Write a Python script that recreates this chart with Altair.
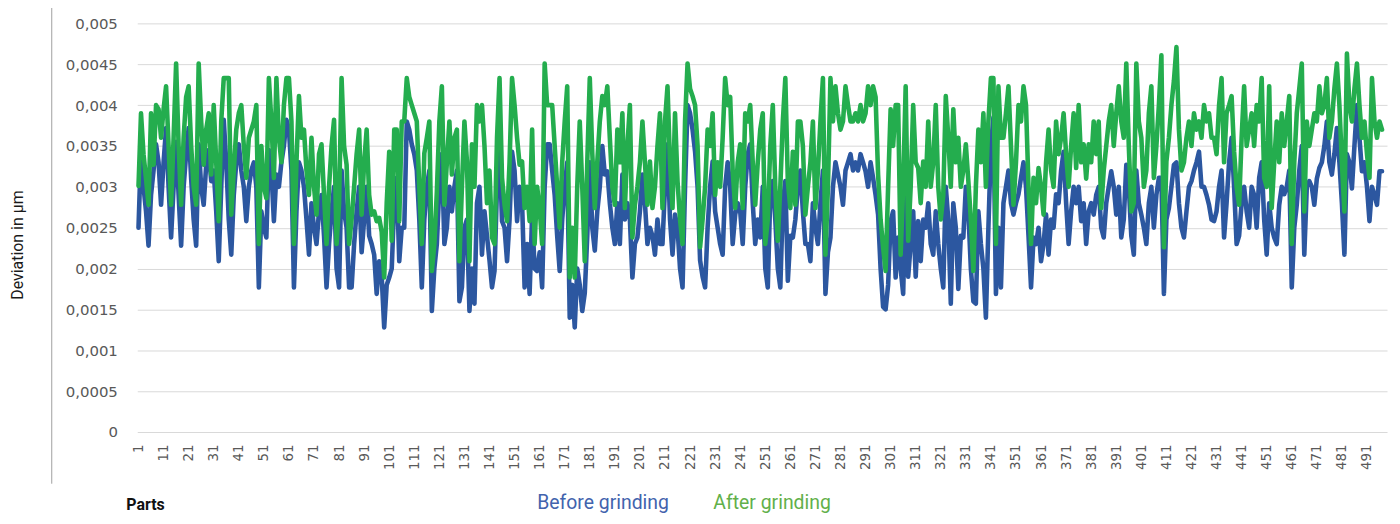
import altair as alt
import pandas as pd

# Deviation values, in units of 1e-5 (e.g. 390 -> 0,0039)
before_e5 = [
    250, 345, 300, 270, 228, 290, 320, 352, 330, 278,
    330, 372, 300, 238, 300, 355, 290, 228, 300, 340,
    372, 310, 260, 228, 352, 300, 278, 327, 345, 307,
    320, 270, 209, 300, 382, 330, 260, 217, 290, 330,
    352, 320, 300, 258, 300, 320, 330, 300, 177, 270,
    250, 238, 345, 320, 258, 315, 300, 330, 350, 382,
    370, 320, 177, 270, 330, 320, 300, 260, 217, 280,
    250, 230, 270, 290, 240, 177, 230, 270, 300, 200,
    177, 320, 270, 250, 177, 177, 230, 270, 300, 220,
    260, 300, 240, 230, 217, 169, 209, 190, 128, 180,
    189, 200, 280, 311, 209, 250, 250, 380, 370, 352,
    340, 320, 260, 177, 260, 300, 320, 148, 200, 230,
    300, 340, 230, 250, 300, 270, 300, 320, 160, 177,
    250, 260, 148, 200, 157, 280, 300, 217, 270, 240,
    210, 177, 197, 300, 352, 258, 250, 209, 260, 343,
    320, 258, 300, 280, 177, 230, 169, 266, 200, 197,
    220, 177, 300, 352, 352, 320, 290, 240, 197, 260,
    300, 330, 140, 180, 128, 200, 180, 148, 170, 240,
    330, 250, 222, 270, 300, 350, 315, 319, 280, 250,
    230, 280, 230, 315, 260, 280, 260, 189, 230, 238,
    270, 315, 280, 230, 250, 240, 217, 260, 230, 230,
    300, 352, 260, 217, 266, 250, 200, 177, 300, 400,
    390, 370, 343, 300, 210, 190, 177, 250, 300, 331,
    270, 250, 230, 217, 300, 330, 300, 230, 266, 280,
    270, 230, 300, 340, 352, 280, 230, 260, 238, 300,
    200, 177, 290, 307, 260, 200, 177, 280, 307, 185,
    240, 238, 260, 300, 320, 270, 230, 230, 209, 280,
    250, 230, 280, 320, 169, 220, 238, 300, 330, 315,
    300, 278, 320, 330, 340, 320, 330, 320, 340, 330,
    319, 300, 330, 311, 290, 266, 200, 153, 150, 180,
    258, 270, 189, 238, 200, 169, 300, 190, 230, 270,
    190, 258, 209, 260, 250, 280, 230, 217, 270, 230,
    200, 177, 300, 260, 157, 280, 250, 175, 240, 238,
    300, 270, 200, 160, 157, 270, 230, 200, 140, 250,
    350, 385, 169, 250, 177, 280, 300, 320, 280, 266,
    280, 291, 311, 330, 300, 240, 177, 238, 230, 250,
    209, 230, 266, 217, 260, 250, 291, 280, 320, 343,
    280, 230, 270, 300, 280, 300, 258, 280, 230, 270,
    280, 266, 290, 300, 250, 238, 280, 300, 319, 300,
    266, 300, 238, 260, 327, 300, 240, 217, 320, 280,
    266, 250, 230, 280, 300, 250, 290, 311, 311, 169,
    260, 274, 300, 327, 330, 280, 250, 238, 270, 300,
    307, 320, 330, 343, 300, 300, 290, 278, 260, 258,
    270, 300, 320, 238, 280, 330, 360, 300, 230, 240,
    280, 300, 270, 250, 300, 290, 250, 311, 330, 260,
    217, 280, 250, 238, 230, 278, 300, 291, 300, 320,
    177, 250, 278, 320, 350, 217, 300, 307, 300, 278,
    310, 323, 330, 350, 380, 330, 315, 340, 372, 330,
    280, 217, 340, 330, 298, 350, 400, 360, 319, 330,
    300, 258, 300, 290, 278, 319, 319,
]

after_e5 = [
    301, 390, 340, 310, 278, 390, 327, 400, 395, 360,
    395, 423, 350, 278, 360, 451, 350, 278, 360, 410,
    423, 350, 300, 278, 451, 380, 327, 370, 390, 315,
    400, 330, 258, 380, 433, 433, 433, 266, 320, 370,
    390, 400, 350, 311, 360, 370, 380, 400, 230, 350,
    300, 286, 433, 380, 311, 433, 360, 330, 400, 433,
    433, 380, 230, 330, 411, 360, 370, 320, 290, 360,
    300, 266, 340, 352, 290, 230, 300, 350, 382, 230,
    280, 433, 350, 327, 230, 260, 300, 340, 370, 266,
    330, 370, 290, 266, 270, 258, 262, 245, 189, 280,
    343, 234, 370, 370, 258, 380, 380, 433, 410, 400,
    390, 380, 300, 230, 341, 360, 380, 197, 230, 294,
    380, 423, 278, 330, 380, 315, 360, 370, 209, 300,
    380, 331, 209, 352, 300, 400, 380, 400, 350, 280,
    320, 238, 230, 360, 433, 311, 278, 258, 330, 433,
    400, 360, 327, 331, 274, 300, 258, 370, 230, 300,
    274, 230, 451, 400, 400, 400, 350, 300, 250, 330,
    380, 423, 189, 250, 189, 300, 380, 300, 209, 330,
    433, 341, 274, 331, 380, 411, 400, 423, 360, 300,
    278, 370, 330, 390, 274, 350, 400, 238, 278, 300,
    330, 380, 330, 278, 331, 274, 300, 350, 390, 274,
    380, 423, 330, 274, 390, 307, 260, 230, 380, 451,
    420, 411, 400, 350, 226, 260, 300, 370, 350, 390,
    290, 330, 300, 360, 433, 400, 410, 320, 274, 330,
    352, 274, 390, 380, 400, 330, 278, 330, 370, 390,
    230, 260, 350, 400, 300, 234, 300, 380, 433, 307,
    274, 343, 278, 380, 380, 350, 266, 300, 330, 380,
    274, 320, 380, 433, 217, 300, 433, 380, 423, 390,
    370, 380, 423, 400, 380, 380, 390, 380, 400, 380,
    390, 423, 400, 423, 410, 315, 260, 226, 197, 300,
    395, 350, 400, 400, 217, 300, 423, 234, 300, 400,
    330, 323, 280, 331, 300, 380, 300, 330, 400, 300,
    260, 290, 411, 360, 300, 395, 330, 360, 300, 320,
    352, 307, 260, 197, 300, 370, 330, 390, 300, 380,
    433, 433, 230, 423, 360, 360, 390, 423, 350, 278,
    330, 400, 380, 423, 400, 300, 230, 311, 280, 323,
    300, 266, 330, 370, 320, 300, 380, 340, 360, 390,
    340, 300, 350, 390, 323, 400, 330, 352, 310, 352,
    330, 380, 340, 380, 274, 320, 350, 380, 400, 350,
    390, 423, 380, 360, 451, 350, 270, 280, 451, 380,
    360, 300, 320, 390, 423, 311, 350, 400, 461, 226,
    331, 360, 400, 430, 471, 370, 320, 330, 360, 380,
    350, 390, 370, 380, 360, 400, 380, 390, 360, 360,
    340, 400, 433, 330, 390, 400, 411, 343, 300, 278,
    360, 423, 350, 370, 390, 350, 400, 380, 433, 311,
    300, 423, 274, 330, 380, 330, 390, 350, 380, 411,
    230, 330, 390, 420, 451, 270, 380, 350, 370, 390,
    380, 423, 390, 400, 433, 360, 380, 420, 451, 400,
    330, 270, 463, 400, 380, 420, 451, 400, 360, 380,
    340, 311, 433, 380, 360, 380, 370,
]

series_names = ["Before grinding", "After grinding"]
y_title = "Deviation in µm"
x_title = "Parts"
y_ticks = [0, 0.0005, 0.001, 0.0015, 0.002, 0.0025, 0.003, 0.0035, 0.004, 0.0045, 0.005]
x_ticks = list(range(1, 492, 10))

n = len(before_e5)
df = pd.DataFrame({
    "part": list(range(1, n + 1)),
    "before": [v / 1e5 for v in before_e5],
    "after": [v / 1e5 for v in after_e5],
})

BLUE = "#2c57a0"
GREEN = "#24ad4e"
BLUE_TXT = "#4263ad"
GREEN_TXT = "#62b04a"
LABEL = "#595959"
LW = 4.6

x_enc = alt.X(
    "part:Q",
    scale=alt.Scale(domain=[0.5, 499], nice=False, zero=False),
    axis=alt.Axis(
        values=x_ticks, labelAngle=270, ticks=False, tickSize=0, domain=False,
        grid=False, labelPadding=12, labelFont="DejaVu Sans", labelFontSize=13.5,
        labelColor=LABEL, title=None, labelFlush=False, labelOverlap=False,
    ),
)
y_scale = alt.Scale(domain=[0, 0.005], nice=False, zero=True)
y_axis = alt.Axis(
    values=y_ticks, grid=True, gridColor="#d9d9d9", gridWidth=1, ticks=False,
    tickSize=0, domain=False, labelPadding=20, title=None,
    labelExpr="replace(format(datum.value, '~g'), '.', ',')",
    labelFont="DejaVu Sans", labelFontSize=15, labelColor=LABEL,
)

base = alt.Chart(df)
blue_line = base.mark_line(color=BLUE, strokeWidth=LW, strokeJoin="round", strokeCap="round").encode(
    x=x_enc, y=alt.Y("before:Q", scale=y_scale, axis=y_axis)
)
green_line = base.mark_line(color=GREEN, strokeWidth=LW, strokeJoin="round", strokeCap="round").encode(
    x=x_enc, y=alt.Y("after:Q", scale=y_scale, axis=y_axis)
)

one = pd.DataFrame({"k": [0]})
sep_rule = alt.Chart(one).mark_rule(color="#a0a0a0", strokeWidth=1).encode(
    x=alt.value(-86), y=alt.value(-17), y2=alt.value(463)
)

ytitle = alt.Chart(pd.DataFrame({"t": [y_title]})).mark_text(
    angle=270, font="Roboto", fontSize=16, color="#1a1a1a", align="center", baseline="middle"
).encode(text="t:N", x=alt.value(-120), y=alt.value(223))

xtitle = alt.Chart(pd.DataFrame({"t": [x_title]})).mark_text(
    font="Roboto", fontSize=16, fontWeight="bold", color="#111111", align="left", baseline="alphabetic"
).encode(text="t:N", x=alt.value(-11), y=alt.value(489))

leg_before = alt.Chart(pd.DataFrame({"t": [series_names[0]]})).mark_text(
    font="Roboto", fontSize=19.5, color=BLUE_TXT, align="center", baseline="alphabetic"
).encode(text="t:N", x=alt.value(468.5), y=alt.value(488))

leg_after = alt.Chart(pd.DataFrame({"t": [series_names[1]]})).mark_text(
    font="Roboto", fontSize=19.5, color=GREEN_TXT, align="center", baseline="alphabetic"
).encode(text="t:N", x=alt.value(638.5), y=alt.value(488))

chart = alt.layer(
    blue_line, green_line, sep_rule, ytitle, xtitle, leg_before, leg_after
).properties(
    width=1257, height=411,
    padding={"left": 130, "top": 14, "right": 5, "bottom": 83},
    autosize=alt.AutoSizeParams(type="none"),
    background="white",
).configure_view(stroke=None)

chart.save("out.html", embed_options={"renderer": "svg", "actions": False})
